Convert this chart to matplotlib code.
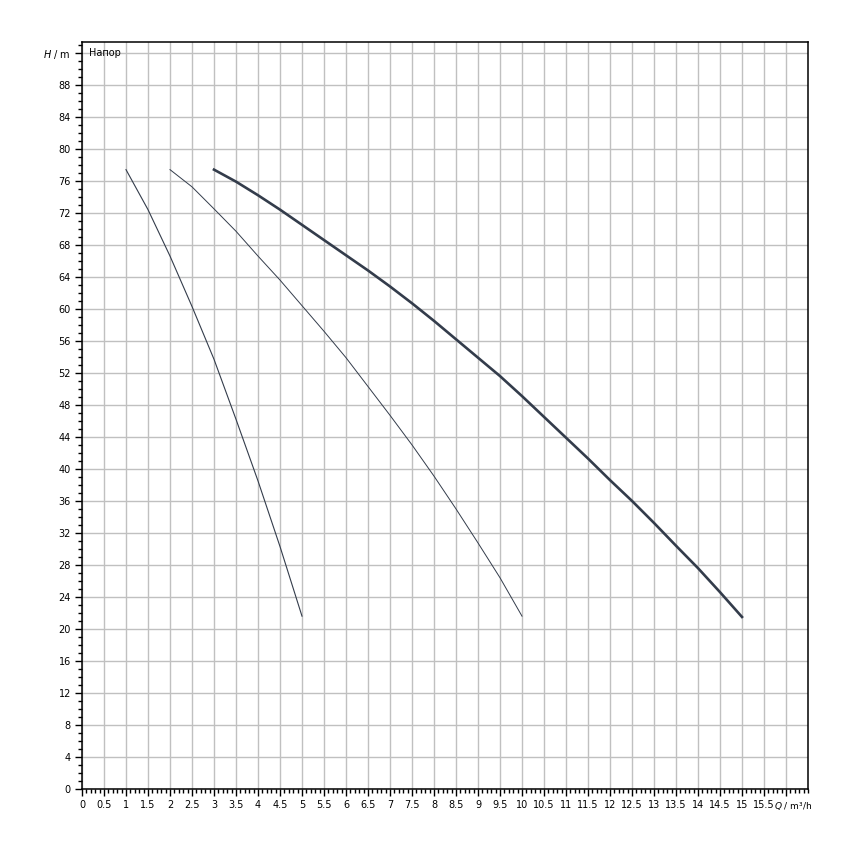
import numpy as np
import matplotlib.pyplot as plt
from matplotlib.ticker import MultipleLocator

# pump curves (1, 2 and 3 pumps)
q1 = [1, 1.5, 2, 2.5, 3, 3.5, 4, 4.5, 5]
h1 = [77.4, 72.4, 66.6, 60.3, 53.7, 46.2, 38.5, 30.3, 21.6]

q2 = [2, 2.5, 3, 3.5, 4, 4.5, 5, 5.5, 6, 6.5, 7, 7.5, 8, 8.5, 9, 9.5, 10]
h2 = [77.4, 75.25, 72.5, 69.7, 66.6, 63.6, 60.4, 57.2, 53.9, 50.3, 46.7,
      43.0, 39.1, 35.0, 30.75, 26.4, 21.6]

q3 = [3, 3.5, 4, 4.5, 5, 5.5, 6, 6.5, 7, 7.5, 8, 8.5, 9, 9.5, 10, 10.5,
      11, 11.5, 12, 12.5, 13, 13.5, 14, 14.5, 15]
h3 = [77.4, 75.9, 74.2, 72.4, 70.5, 68.6, 66.7, 64.8, 62.8, 60.7, 58.5,
      56.2, 53.9, 51.6, 49.1, 46.5, 43.9, 41.3, 38.6, 36.0, 33.25, 30.4,
      27.6, 24.6, 21.5]

x_ticks = np.arange(0, 16.01, 0.5)
x_labels = [f"{v:g}" for v in x_ticks[:-1]] + [""]
y_ticks = np.arange(0, 92.01, 4)
y_labels = [f"{v:g}" for v in y_ticks[:-1]] + ["$H$ / m"]

curve_color = "#333c4b"

fig = plt.figure(figsize=(8.5, 8.5), dpi=100)
ax = fig.add_axes([82 / 850, 61 / 850, 726 / 850, 747 / 850])

ax.plot(q1, h1, color=curve_color, lw=0.8)
ax.plot(q2, h2, color=curve_color, lw=0.7)
ax.plot(q3, h3, color=curve_color, lw=1.9)

ax.set_xlim(0, 16.5)
ax.set_ylim(0, 93.35)

ax.set_xticks(x_ticks)
ax.set_xticklabels(x_labels)
ax.set_yticks(y_ticks)
ax.set_yticklabels(y_labels)
ax.xaxis.set_minor_locator(MultipleLocator(0.1))
ax.yaxis.set_minor_locator(MultipleLocator(1))

ax.tick_params(which="major", direction="out", length=5, width=1, labelsize=7, pad=3)
ax.tick_params(which="minor", direction="out", length=3, width=1)
ax.grid(which="major", color="#c0c0c0", lw=1)
ax.set_axisbelow(True)

for s in ax.spines.values():
    s.set_linewidth(1.1)

# axis unit for Q sits right after the last number, level with tick labels
ax.annotate("$Q$ / m³/h", xy=(15.73, 0), xytext=(0, -8), textcoords="offset points",
            fontsize=6.5, ha="left", va="top", annotation_clip=False)
ax.text(0.15, 92, "Hапор", fontsize=7, va="center", ha="left")

fig.savefig("out.png", dpi=100)
